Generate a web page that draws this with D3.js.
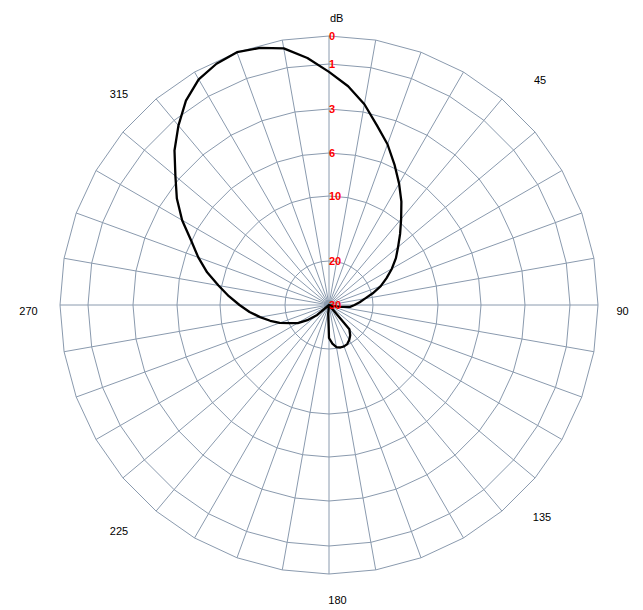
<!DOCTYPE html>
<html lang="en">
<head>
  <meta charset="UTF-8">
  <title>Polar pattern</title>
  <script src="https://d3js.org/d3.v7.min.js"></script>
  <style>
    body { margin: 0; background: #fff; }
    svg { display: block; }
    .grid { fill: none; stroke: #8a9aae; stroke-width: 1; }
    .trace { fill: none; stroke: #000; stroke-width: 2.3; stroke-linejoin: round; }
    .db-label { fill: #ff0000; font: bold 11px "Liberation Sans", Arial, sans-serif; }
    .ang-label { fill: #000; font: 11px "Liberation Sans", Arial, sans-serif; }
  </style>
</head>
<body>
<script>
  // pattern, dB below max, every 5 degrees clockwise from top
  const angles = d3.range(0, 360, 5);
  const gainDb = [
    1.35, 1.95, 2.65, 3.7, 4.7, 5.8, 7.1, 8.4, 9.7, 11.3, 12.9, 14.2,     // 0..55
    15.6, 17.0, 18.3, 19.8, 21.7, 23.0, 24.2, 25.2, 27.5, 29.5, 30, 30,   // 60..115
    30, 30, 30, 30, 22.8, 21.6, 20.8, 20.2, 20.0, 20.0, 20.3, 21.2,       // 120..175
    22.5, 28, 30, 30, 30, 30, 30, 30, 30, 30, 26.5, 24.0,                 // 180..235
    21.8, 20.2, 18.7, 17.4, 16.0, 14.5, 13.0, 11.3, 9.7, 8.4, 7.2, 6.0,   // 240..295
    4.8, 3.7, 2.8, 2.0, 1.3, 0.7, 0.3, 0.1, 0.0, 0.1, 0.3, 0.75           // 300..355
  ];

  // radial rings (dB) and their distance from centre
  const ringDb = [0, 1, 3, 6, 10, 20, 30];
  const ringPx = [269, 241, 196, 152, 109, 44, 0];
  const spokeAngles = d3.range(0, 360, 10);
  const angleLabels = [45, 90, 135, 180, 225, 270, 315];

  const W = 643, H = 610;
  const cx = 329, cy = 305;

  const svg = d3.select('body').append('svg')
    .attr('width', W)
    .attr('height', H);

  const g = svg.append('g').attr('transform', `translate(${cx},${cy})`);

  const r = d3.scaleLinear().domain(ringDb).range(ringPx).clamp(true);
  const rad = d => d * Math.PI / 180;

  // polygon rings (36 sides, one vertex per spoke)
  const ringLine = d3.lineRadial()
    .angle(a => rad(a))
    .curve(d3.curveLinearClosed);

  g.selectAll('.ring')
    .data(ringDb.filter(d => d < 30))
    .enter().append('path')
    .attr('class', 'grid')
    .attr('d', d => ringLine.radius(r(d))(spokeAngles));

  // spokes
  g.selectAll('.spoke')
    .data(spokeAngles)
    .enter().append('line')
    .attr('class', 'grid')
    .attr('x1', 0).attr('y1', 0)
    .attr('x2', a => r(0) * Math.sin(rad(a)))
    .attr('y2', a => -r(0) * Math.cos(rad(a)));

  g.append('circle')
    .attr('r', 5)
    .attr('fill', '#8a9aae');

  // pattern trace
  const trace = d3.lineRadial()
    .angle(d => rad(d[0]))
    .radius(d => r(d[1]))
    .curve(d3.curveLinearClosed);

  g.append('path')
    .attr('class', 'trace')
    .attr('d', trace(angles.map((a, i) => [a, gainDb[i]])));

  // dB labels along the 0 degree spoke
  g.selectAll('.db-label')
    .data(ringDb)
    .enter().append('text')
    .attr('class', 'db-label')
    .attr('x', 0)
    .attr('y', d => -r(d))
    .attr('dy', '0.36em')
    .text(d => d);

  g.append('text')
    .attr('class', 'ang-label')
    .attr('x', 1)
    .attr('y', -287)
    .attr('dy', '0.36em')
    .text('dB');

  // angle labels; the original places them a bit off the ideal ring
  const nudge = {
    45: [1, -15], 90: [-3.5, 6.5], 135: [3, 2], 180: [8.5, -2],
    225: [0, 16], 270: [-3.5, 6.5], 315: [0, -1]
  };
  const labelR = 297;
  g.selectAll('.ang-label-n')
    .data(angleLabels)
    .enter().append('text')
    .attr('class', 'ang-label')
    .attr('text-anchor', 'middle')
    .attr('dy', '0.36em')
    .attr('x', a => labelR * Math.sin(rad(a)) + nudge[a][0])
    .attr('y', a => -labelR * Math.cos(rad(a)) + nudge[a][1])
    .text(a => a);
</script>
</body>
</html>
